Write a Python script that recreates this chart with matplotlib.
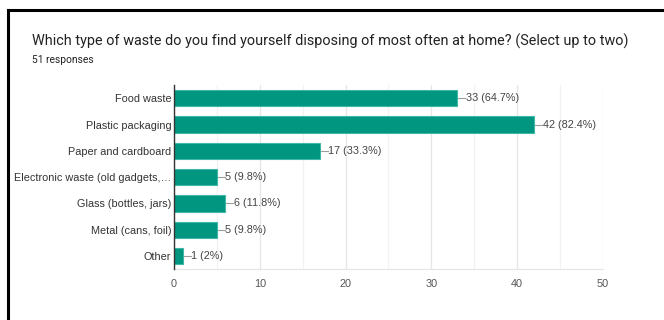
import matplotlib
matplotlib.use("Agg")
import matplotlib.pyplot as plt
from matplotlib.lines import Line2D
from matplotlib.ticker import MultipleLocator

categories = [
    "Food waste",
    "Plastic packaging",
    "Paper and cardboard",
    "Electronic waste (old gadgets,\u2026",
    "Glass (bottles, jars)",
    "Metal (cans, foil)",
    "Other",
]
counts = [33, 42, 17, 5, 6, 5, 1]
percents = ["64.7%", "82.4%", "33.3%", "9.8%", "11.8%", "9.8%", "2%"]
xticks = [0, 10, 20, 30, 40, 50]

title = "Which type of waste do you find yourself disposing of most often at home? (Select up to two)"
subtitle = "51 responses"

bar_color = "#00967f"
edge_color = "#3fb9a5"
text_color = "#444444"

fig = plt.figure(figsize=(6.64, 3.2), dpi=100)
ax = fig.add_axes([0.262, 0.159, 0.646, 0.575])

y = list(range(len(categories)))
ax.barh(y, counts, height=0.62, color=bar_color, edgecolor=edge_color,
        linewidth=0.8, zorder=3)
ax.set_ylim(len(categories) - 0.5, -0.5)
ax.set_xlim(0, 50)
ax.set_yticks(y)
ax.set_yticklabels(categories, family="Liberation Sans", fontsize=7.8,
                   color="#333333")
ax.set_xticks(xticks)
ax.set_xticklabels([str(t) for t in xticks], family="Liberation Sans",
                   fontsize=7.8, color="#555555")
ax.xaxis.set_minor_locator(MultipleLocator(5))
ax.grid(axis="x", which="major", color="#e6e6e6", linewidth=0.9, zorder=0)
ax.grid(axis="x", which="minor", color="#f2f2f2", linewidth=0.9, zorder=0)
ax.tick_params(axis="both", which="both", length=0)
ax.tick_params(axis="y", pad=2)
ax.tick_params(axis="x", pad=7)
for side in ("top", "right"):
    ax.spines[side].set_visible(False)
ax.spines["left"].set_color("#333333")
ax.spines["left"].set_linewidth(1.0)
ax.spines["left"].set_zorder(4)
ax.spines["bottom"].set_color("#e6e6e6")
ax.spines["bottom"].set_linewidth(0.9)

# value labels with short leader lines
unit = 0.646 * 6.64 * 100 / 50.0  # pixels per data unit
for yi, c, p in zip(y, counts, percents):
    x0 = c + 1.0 / unit
    x1 = c + 8.0 / unit
    ax.plot([x0, x1], [yi, yi], color="#9e9e9e", linewidth=0.8, zorder=3,
            clip_on=False)
    ax.text(x1 + 0.5 / unit, yi, f"{c} ({p})", va="center", ha="left",
            family="Liberation Sans", fontsize=7.8, color=text_color)

fig.text(32 / 664, 1 - 41 / 320, title, family="Roboto", fontsize=10.4,
         color="#212121", va="center", ha="left")
fig.text(32 / 664, 1 - 60 / 320, subtitle, family="Roboto", fontsize=7.4,
         color="#212121", va="center", ha="left")

# outer frame: left and top edges
fig.add_artist(Line2D([8 / 664, 8 / 664], [0, 1 - 10 / 320],
                      transform=fig.transFigure, color="black", linewidth=2.2))
fig.add_artist(Line2D([8 / 664, 1], [1 - 10 / 320, 1 - 10 / 320],
                      transform=fig.transFigure, color="black", linewidth=2.2))

fig.savefig("out.png", dpi=100, facecolor="white")
